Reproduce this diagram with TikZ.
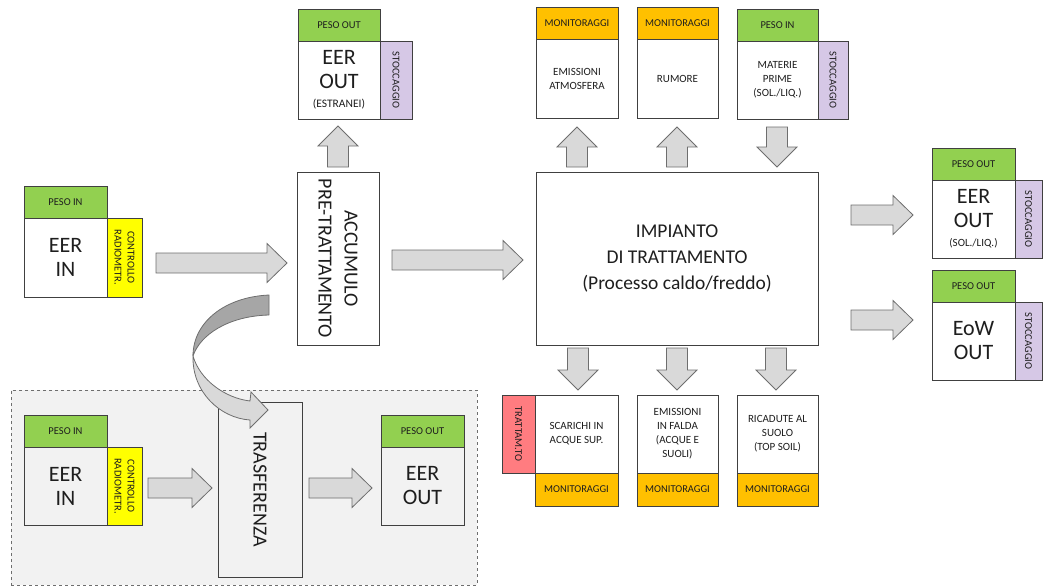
\documentclass[tikz,border=0pt]{standalone}
\usepackage{fontspec}
\setmainfont{Carlito}
\usetikzlibrary{calc}
\definecolor{hgreen}{RGB}{146,208,80}
\definecolor{hyellow}{RGB}{255,255,0}
\definecolor{hpurple}{RGB}{214,200,230}
\definecolor{horange}{RGB}{255,192,0}
\definecolor{hred}{RGB}{255,124,128}
\definecolor{afill}{RGB}{217,217,217}
\definecolor{adark}{RGB}{166,166,166}
\definecolor{aline}{RGB}{110,110,110}
\definecolor{bline}{RGB}{64,64,64}
\definecolor{bgray}{RGB}{242,242,242}
\definecolor{txt}{RGB}{30,30,30}
\tikzset{
  bx/.style={draw=bline, line width=0.9pt, fill=white, inner sep=0pt, text=txt, align=center},
  hdr/.style={font=\fontsize{10.5}{12}\selectfont},
  desc/.style={font=\fontsize{11}{14}\selectfont},
  big/.style={font=\fontsize{22}{24}\selectfont},
  side/.style={font=\fontsize{10.5}{13}\selectfont},
  midtxt/.style={font=\fontsize{20}{26}\selectfont},
  imptxt/.style={font=\fontsize{19.5}{26}\selectfont},
  arr/.style={draw=aline, line width=0.8pt, fill=afill, line join=miter},
  region/.style={draw=aline, dashed, line width=0.8pt, fill=bgray},
}
% box by corners: [style]{name}{x1}{y1}{x2}{y2}{text}
\newcommand\bxn[7][]{%
  \pgfmathsetmacro\cx{(#3+#5)/2}\pgfmathsetmacro\cy{(#4+#6)/2}%
  \pgfmathsetmacro\ww{#5-#3}\pgfmathsetmacro\hh{#6-#4}%
  \node[bx,#1,minimum width=\ww pt,minimum height=\hh pt] (#2) at (\cx,\cy) {#7};}
\newcommand\rbxn[7][]{%
  \pgfmathsetmacro\cx{(#3+#5)/2}\pgfmathsetmacro\cy{(#4+#6)/2}%
  \pgfmathsetmacro\ww{#5-#3}\pgfmathsetmacro\hh{#6-#4}%
  \node[bx,#1,rotate=-90,minimum width=\hh pt,minimum height=\ww pt] (#2) at (\cx,\cy) {#7};}
% block arrows
\newcommand\rarr[2]{\draw[arr] let \p1=(#1),\p2=(#2) in
  (\x1,\y1+10pt) -- (\x2-20pt,\y1+10pt) -- (\x2-20pt,\y1+19.5pt) -- (\x2,\y1)
  -- (\x2-20pt,\y1-19.5pt) -- (\x2-20pt,\y1-10pt) -- (\x1,\y1-10pt) -- cycle;}
\newcommand\uarr[2]{\draw[arr] let \p1=(#1),\p2=(#2) in
  (\x1-10.5pt,\y1) -- (\x1-10.5pt,\y2-20pt) -- (\x1-20pt,\y2-20pt) -- (\x1,\y2)
  -- (\x1+20pt,\y2-20pt) -- (\x1+10.5pt,\y2-20pt) -- (\x1+10.5pt,\y1) -- cycle;}
\newcommand\darr[2]{\draw[arr] let \p1=(#1),\p2=(#2) in
  (\x1-10.5pt,\y1) -- (\x1-10.5pt,\y2+20pt) -- (\x1-20pt,\y2+20pt) -- (\x1,\y2)
  -- (\x1+20pt,\y2+20pt) -- (\x1+10.5pt,\y2+20pt) -- (\x1+10.5pt,\y1) -- cycle;}
\begin{document}
\begin{tikzpicture}[x=1pt,y=-1pt]
\useasboundingbox (0,0) rectangle (1043,587);

% dashed transfer region
\bxn[region]{grp}{11}{390}{477}{585}{}

% EER IN (top)
\bxn[hdr,fill=hgreen]{inH}{24}{186}{107}{218}{PESO IN}
\bxn[big]{inB}{24}{218}{107}{297}{EER\\IN}
\rbxn[side,fill=hyellow]{inC}{107}{218}{142}{297}{CONTROLLO\\RADIOMETR.}

% accumulo
\rbxn[midtxt]{acc}{297}{172}{379}{345}{ACCUMULO\\PRE-TRATTAMENTO}

% EER OUT (estranei)
\bxn[hdr,fill=hgreen]{esH}{298}{9}{380}{41}{PESO OUT}
\bxn[big]{esB}{298}{41}{380}{119}{EER\\OUT\\[-5pt]{\fontsize{11.5}{13}\selectfont (ESTRANEI)}}
\rbxn[side,fill=hpurple]{esS}{380}{41}{412}{119}{STOCCAGGIO}

% impianto
\bxn[imptxt]{imp}{536}{172}{818}{345}{IMPIANTO\\DI TRATTAMENTO\\(Processo caldo/freddo)}

% top row
\bxn[hdr,fill=horange]{m1H}{536}{7}{618}{39}{MONITORAGGI}
\bxn[desc]{m1B}{536}{39}{618}{118}{EMISSIONI\\ATMOSFERA}
\bxn[hdr,fill=horange]{m2H}{637}{7}{718}{39}{MONITORAGGI}
\bxn[desc]{m2B}{637}{39}{718}{118}{RUMORE}
\bxn[hdr,fill=hgreen]{mpH}{737}{9}{818}{41}{PESO IN}
\bxn[desc]{mpB}{737}{41}{818}{119}{MATERIE\\PRIME\\(SOL./LIQ.)}
\rbxn[side,fill=hpurple]{mpS}{818}{41}{848}{119}{STOCCAGGIO}

% right column
\bxn[hdr,fill=hgreen]{eoH}{932}{148}{1015}{180}{PESO OUT}
\bxn[big]{eoB}{932}{180}{1015}{258}{EER\\OUT\\[-5pt]{\fontsize{11}{13}\selectfont (SOL./LIQ.)}}
\rbxn[side,fill=hpurple]{eoS}{1015}{180}{1042}{258}{STOCCAGGIO}
\bxn[hdr,fill=hgreen]{ewH}{932}{270}{1015}{302}{PESO OUT}
\bxn[big]{ewB}{932}{302}{1015}{380}{EoW\\OUT}
\rbxn[side,fill=hpurple]{ewS}{1015}{302}{1042}{380}{STOCCAGGIO}

% bottom row
\rbxn[side,fill=hred]{scR}{502}{395}{535}{473}{TRATTAM.TO}
\bxn[desc]{scB}{535}{395}{618}{473}{SCARICHI IN\\ACQUE SUP.}
\bxn[hdr,fill=horange]{scM}{535}{473}{618}{506}{MONITORAGGI}
\bxn[desc]{faB}{637}{395}{718}{473}{EMISSIONI\\IN FALDA\\(ACQUE E\\SUOLI)}
\bxn[hdr,fill=horange]{faM}{637}{473}{718}{506}{MONITORAGGI}
\bxn[desc]{riB}{737}{395}{818}{473}{RICADUTE AL\\SUOLO\\(TOP SOIL)}
\bxn[hdr,fill=horange]{riM}{737}{473}{818}{506}{MONITORAGGI}

% transfer region content
\bxn[hdr,fill=hgreen]{i2H}{24}{415}{107}{447}{PESO IN}
\bxn[big,fill=bgray]{i2B}{24}{447}{107}{525}{EER\\IN}
\rbxn[side,fill=hyellow]{i2C}{107}{447}{142}{525}{CONTROLLO\\RADIOMETR.}
\rbxn[midtxt,fill=bgray]{tra}{218}{402}{302}{577}{TRASFERENZA}
\bxn[hdr,fill=hgreen]{o2H}{381}{415}{464}{447}{PESO OUT}
\bxn[big,fill=bgray]{o2B}{381}{447}{464}{525}{EER\\OUT}

% arrow end points
\coordinate (a1s) at (156,263); \coordinate (a1e) at (287,263);
\coordinate (a2s) at (392,260); \coordinate (a2e) at (523,260);
\coordinate (a3s) at (851,215); \coordinate (a3e) at (913,215);
\coordinate (a4s) at (851,320); \coordinate (a4e) at (913,320);
\coordinate (b1s) at (148,488); \coordinate (b1e) at (212,488);
\coordinate (b2s) at (309,488); \coordinate (b2e) at (372,488);
\coordinate (u1s) at (338,167); \coordinate (u1e) at (338,126);
\coordinate (u2s) at (577,167); \coordinate (u2e) at (577,127);
\coordinate (u3s) at (677,167); \coordinate (u3e) at (677,127);
\coordinate (d1s) at (777,127); \coordinate (d1e) at (777,167);
\coordinate (d2s) at (578,348); \coordinate (d2e) at (578,390);
\coordinate (d3s) at (677,348); \coordinate (d3e) at (677,390);
\coordinate (d4s) at (776,348); \coordinate (d4e) at (776,390);

\rarr{a1s}{a1e}
\rarr{a2s}{a2e}
\rarr{a3s}{a3e}
\rarr{a4s}{a4e}
\rarr{b1s}{b1e}
\rarr{b2s}{b2e}
\uarr{u1s}{u1e}
\uarr{u2s}{u2e}
\uarr{u3s}{u3e}
\darr{d1s}{d1e}
\darr{d2s}{d2e}
\darr{d3s}{d3e}
\darr{d4s}{d4e}

% curved arrow from accumulo to trasferenza
\coordinate (cTop) at (269,295);
\coordinate (cTwist) at (193,356);
\draw[draw=aline, line width=0.8pt, fill=adark, line join=round]
  (cTop) .. controls (225,297) and (193,322) .. (cTwist)
  .. controls (200,335) and (228,316) .. (269,315) -- cycle;
\draw[draw=aline, line width=0.8pt, fill=afill, line join=miter]
  (cTwist) .. controls (192,392) and (220,418) .. (250,420)
  -- (250,428) -- (268,410) -- (251,392) -- (250,401)
  .. controls (225,398) and (200,380) .. (cTwist) -- cycle;
\end{tikzpicture}
\end{document}
